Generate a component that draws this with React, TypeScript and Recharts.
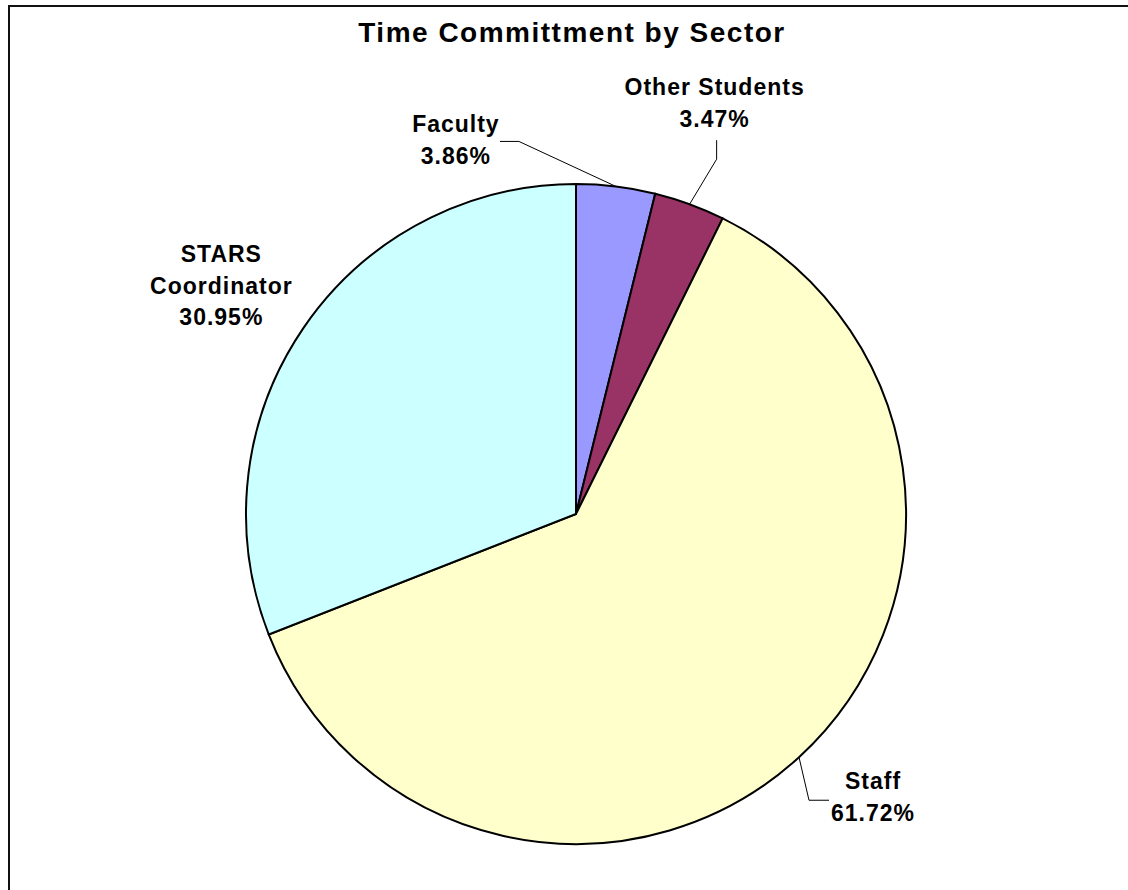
import { PieChart, Pie, Cell } from "recharts";

const sectors = ["Faculty", "Other Students", "Staff", "STARS Coordinator"];
const shares = [3.86, 3.47, 61.72, 30.95];
const sectorColors = ["#9999FF", "#993366", "#FFFFCC", "#CCFFFF"];
const labelNames = [["Faculty"], ["Other Students"], ["Staff"], ["STARS", "Coordinator"]];

// label placement, as offsets from the arc point at each slice's mid angle
const labelLayout = [
  { dx: -160, dy: -54, line: [[-97, -45], [-116, -45]] },
  { dx: 25, dy: -109, line: [[27, -45], [27, -64]] },
  { dx: 74, dy: 32, line: [[10, 43], [30, 43]] },
  { dx: -82, dy: -66, line: [] as number[][] },
];

const data = sectors.map((name, i) => ({ name, value: shares[i] }));

const RADIAN = Math.PI / 180;
const FONT = "'Liberation Sans', Arial, Helvetica, sans-serif";

const renderLabel = (props: any) => {
  const { cx, cy, midAngle, outerRadius, index, value } = props;
  const ax = cx + outerRadius * Math.cos(-midAngle * RADIAN);
  const ay = cy + outerRadius * Math.sin(-midAngle * RADIAN);
  const lay = labelLayout[index];
  const lines = [...labelNames[index], `${Number(value).toFixed(2)}%`];
  const pts = [[0, 0], ...lay.line].map(([x, y]) => `${ax + x},${ay + y}`).join(" ");
  return (
    <g key={`lbl-${index}`}>
      {lay.line.length > 0 && <polyline points={pts} fill="none" stroke="#000" strokeWidth={1} />}
      <text
        x={ax + lay.dx}
        y={ay + lay.dy}
        textAnchor="middle"
        fontFamily={FONT}
        fontWeight="bold"
        fontSize={23}
        letterSpacing={1}
        fill="#000"
      >
        {lines.map((t, k) => (
          <tspan key={k} x={ax + lay.dx} dy={k === 0 ? 0 : 31.5}>
            {t}
          </tspan>
        ))}
      </text>
    </g>
  );
};

export default function App() {
  return (
    <div style={{ position: "fixed", left: 0, top: 0, width: 1128, height: 890, overflow: "hidden", background: "#fff" }}>
      <div
        style={{
          position: "absolute",
          left: 8,
          top: 5,
          width: 1200,
          height: 1000,
          borderTop: "2px solid #111",
          borderLeft: "2px solid #111",
        }}
      />
      <div
        style={{
          position: "absolute",
          left: 0,
          top: 19,
          width: 1144,
          textAlign: "center",
          fontFamily: FONT,
          fontWeight: "bold",
          fontSize: 28,
          lineHeight: "28px",
          letterSpacing: 1.5,
          color: "#000",
        }}
      >
        Time Committment by Sector
      </div>
      <div style={{ position: "absolute", left: 0, top: 0 }}>
        <PieChart width={1128} height={890} margin={{ top: 0, right: 0, bottom: 0, left: 0 }}>
          <Pie
            data={data}
            dataKey="value"
            nameKey="name"
            cx={576}
            cy={514}
            outerRadius={330}
            startAngle={90}
            endAngle={-270}
            stroke="#000"
            strokeWidth={2}
            label={renderLabel}
            labelLine={false}
            isAnimationActive={false}
          >
            {data.map((d, i) => (
              <Cell key={d.name} fill={sectorColors[i]} />
            ))}
          </Pie>
        </PieChart>
      </div>
    </div>
  );
}
